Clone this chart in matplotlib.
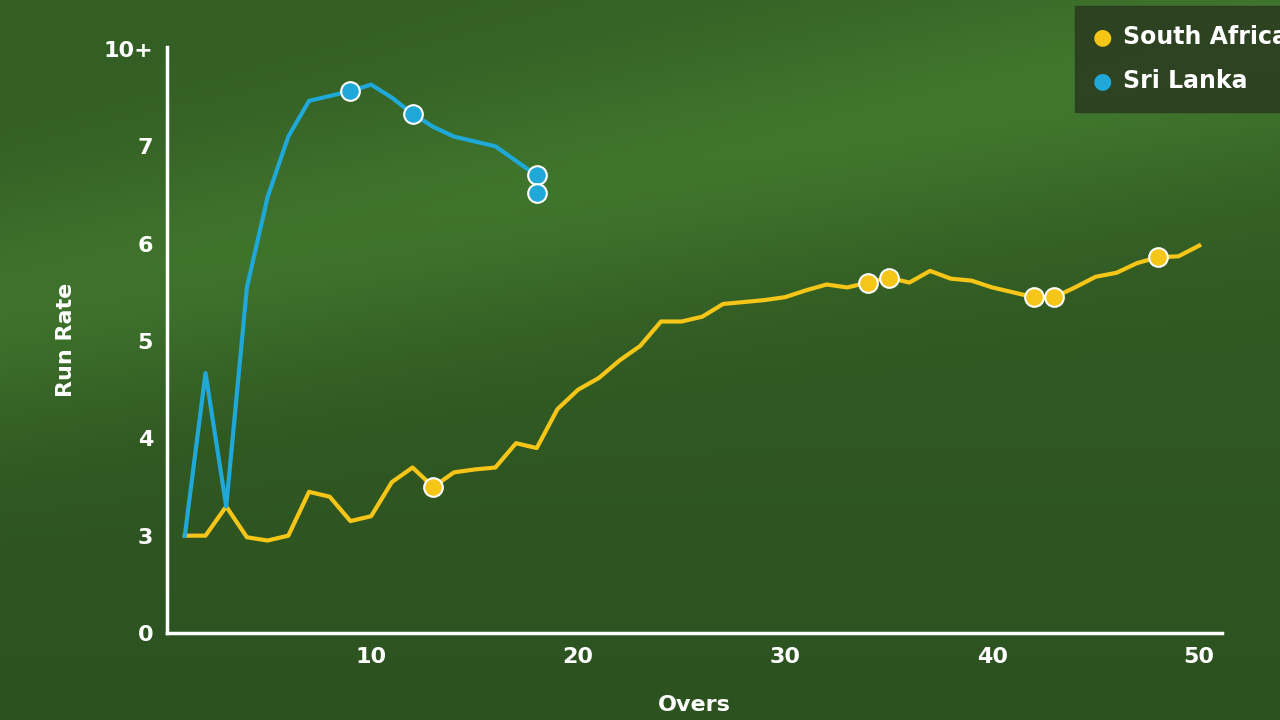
import numpy as np
import matplotlib.pyplot as plt
from matplotlib.patches import Rectangle

# ------------------------------------------------------------------
# Data
# ------------------------------------------------------------------
sa_overs = list(range(1, 51))
sa_rate = [3.0, 3.0, 3.3, 2.95, 2.85, 3.0, 3.45, 3.4, 3.15, 3.2,
           3.55, 3.7, 3.5, 3.65, 3.68, 3.7, 3.95, 3.9, 4.3, 4.5,
           4.62, 4.8, 4.95, 5.2, 5.2, 5.25, 5.38, 5.4, 5.42, 5.45,
           5.52, 5.58, 5.55, 5.6, 5.65, 5.6, 5.72, 5.64, 5.62, 5.55,
           5.5, 5.45, 5.45, 5.55, 5.66, 5.7, 5.8, 5.86, 5.87, 5.98]
sa_wkts = [13, 34, 35, 42, 43, 48]

sl_overs = [1, 2, 3, 4, 5, 6, 7, 8, 9, 10, 11, 12, 13, 14, 15, 16, 17, 18]
sl_rate = [3.0, 4.67, 3.3, 5.55, 6.48, 7.3, 8.4, 8.55, 8.7, 8.9,
           8.5, 8.0, 7.6, 7.3, 7.15, 7.0, 6.85, 6.7]
sl_wkt_x = [9, 12, 18, 18]
sl_wkt_y = [8.7, 8.0, 6.71, 6.52]

ytick_vals = [0, 3, 4, 5, 6, 7, 10]
ytick_labels = ["0", "3", "4", "5", "6", "7", "10+"]
xtick_vals = [10, 20, 30, 40, 50]

# piecewise run-rate scale (0-3 and 7-10 compressed)
scale_vals = np.array([0, 3, 4, 5, 6, 7, 10, 20])
scale_pos = np.array([0, 1, 2, 3, 4, 5, 6, 7])

def fwd(v):
    return np.interp(v, scale_vals, scale_pos)

def inv(p):
    return np.interp(p, scale_pos, scale_vals)

YELLOW = "#f5c518"
BLUE = "#1fa8d8"

fig = plt.figure(figsize=(12.8, 7.2), dpi=100)

# ------------------------------------------------------------------
# Grass background
# ------------------------------------------------------------------
bg = fig.add_axes([0, 0, 1, 1])
yy, xx = np.mgrid[0:1:360j, 0:1:640j]
band = np.exp(-((yy - 0.42 + 0.35 * xx) ** 2) / 0.03)
g = 0.85 + 0.22 * band - 0.12 * yy
rgb = np.stack([0.24 * g, 0.44 * g, 0.17 * g], axis=-1)
rgb = np.clip(rgb, 0, 1)
bg.imshow(rgb, extent=[0, 1, 0, 1], aspect="auto", origin="upper")
bg.axis("off")

# ------------------------------------------------------------------
# Chart
# ------------------------------------------------------------------
ax = fig.add_axes([167 / 1280, 87 / 720, 1055 / 1280, 586 / 720])
ax.patch.set_alpha(0)
ax.set_yscale("function", functions=(fwd, inv))
ax.set_ylim(0, 10.2)
ax.set_xlim(0.14, 51.1)

ax.plot(sa_overs, sa_rate, color=YELLOW, lw=3, zorder=3)
ax.plot(sl_overs, sl_rate, color=BLUE, lw=3, zorder=3)

sa_wy = [sa_rate[o - 1] for o in sa_wkts]
ax.scatter(sa_wkts, sa_wy, s=180, color=YELLOW, edgecolor="white", lw=1.5, zorder=4)
ax.scatter(sl_wkt_x, sl_wkt_y, s=180, color=BLUE, edgecolor="white", lw=1.5, zorder=4)

for s in ["top", "right"]:
    ax.spines[s].set_visible(False)
for s in ["left", "bottom"]:
    ax.spines[s].set_color("white")
    ax.spines[s].set_linewidth(2.5)

ax.set_yticks(ytick_vals)
ax.set_yticklabels(ytick_labels)
ax.yaxis.set_minor_locator(plt.NullLocator())
ax.set_xticks(xtick_vals)
ax.tick_params(length=0, colors="white", labelsize=16, pad=10)
for lab in ax.get_xticklabels() + ax.get_yticklabels():
    lab.set_fontweight("bold")

ax.set_xlabel("Overs", color="white", fontsize=16, fontweight="bold", labelpad=20)
ax.set_ylabel("Run Rate", color="white", fontsize=16, fontweight="bold", labelpad=20)

# ------------------------------------------------------------------
# Legend (runs off the right edge)
# ------------------------------------------------------------------
bg.add_patch(Rectangle((1075 / 1280, 1 - 112 / 720), 0.2, 106 / 720,
                       transform=fig.transFigure, color="#2a3a20", alpha=0.85, zorder=5))
for i, (name, col) in enumerate([("South Africa", YELLOW), ("Sri Lanka", BLUE)]):
    yf = 1 - (37 + 44 * i) / 720
    fig.text(1102 / 1280, yf, "\u25CF", color=col, fontsize=16, va="center", ha="center", zorder=6)
    fig.text(1123 / 1280, yf, name, color="white", fontsize=17, fontweight="bold",
             va="center", zorder=6)

fig.savefig("out.png", dpi=100)
